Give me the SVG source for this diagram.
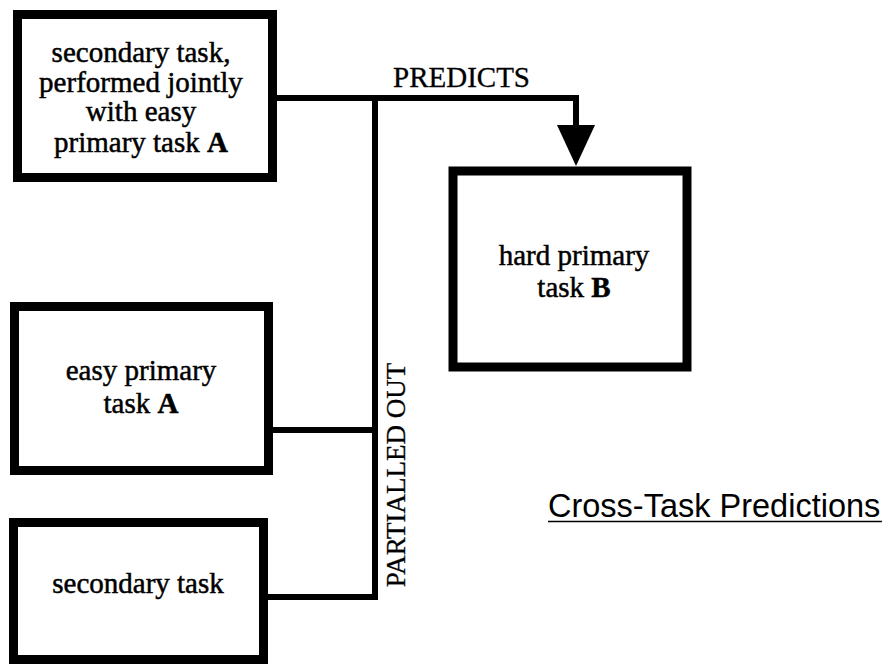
<svg xmlns="http://www.w3.org/2000/svg" width="888" height="666" viewBox="0 0 888 666">
  <style>
    .box { fill: #ffffff; stroke: #000000; stroke-width: 9; }
    .wire { fill: none; stroke: #000000; stroke-width: 6; stroke-linejoin: miter; }
    .label { font-family: "Liberation Serif", "Times New Roman", serif; font-size: 29px; fill: #000000; stroke: #000000; stroke-width: 0.5; text-anchor: middle; }
    .caps { font-family: "Liberation Serif", "Times New Roman", serif; fill: #000000; stroke: #000000; stroke-width: 0.3; }
    .title { font-family: "Liberation Sans", Arial, sans-serif; font-size: 32.5px; fill: #000000; }
  </style>

  <rect width="888" height="666" fill="#ffffff"/>

  <!-- connectors -->
  <g id="connectors">
    <path class="wire" d="M277 98 H576 V128"/>
    <polygon points="557,125 595,125 576,166" fill="#000000"/>
    <path class="wire" d="M375 98 V600"/>
    <path class="wire" d="M272 430 H375"/>
    <path class="wire" d="M267 597 H375"/>
    <text class="caps" x="393" y="87" font-size="29">PREDICTS</text>
    <text class="caps" font-size="27" text-anchor="middle" transform="translate(405 475) rotate(-90)">PARTIALLED OUT</text>
  </g>

  <!-- secondary task done together with task A -->
  <g id="node-joint">
    <rect class="box" x="17.5" y="14.5" width="255" height="163"/>
    <text class="label" x="141" y="62">secondary task,</text>
    <text class="label" x="141" y="92">performed jointly</text>
    <text class="label" x="141" y="121">with easy</text>
    <text class="label" x="141" y="152">primary task <tspan font-weight="bold">A</tspan></text>
  </g>

  <!-- hard primary task B -->
  <g id="node-hard-b">
    <rect class="box" x="453" y="171" width="234" height="196" stroke-width="10"/>
    <text class="label" x="574" y="265">hard primary</text>
    <text class="label" x="574" y="297">task <tspan font-weight="bold">B</tspan></text>
  </g>

  <!-- easy primary task A -->
  <g id="node-easy-a">
    <rect class="box" x="14.5" y="306.5" width="254" height="164"/>
    <text class="label" x="141" y="380">easy primary</text>
    <text class="label" x="141" y="413">task <tspan font-weight="bold">A</tspan></text>
  </g>

  <!-- secondary task alone -->
  <g id="node-secondary">
    <rect class="box" x="13.5" y="522.5" width="250" height="137"/>
    <text class="label" x="138" y="593">secondary task</text>
  </g>

  <!-- caption -->
  <g id="caption">
    <text class="title" x="548" y="517">Cross-Task Predictions</text>
    <line x1="548" y1="521.5" x2="882" y2="521.5" stroke="#000000" stroke-width="1.5"/>
  </g>
</svg>
